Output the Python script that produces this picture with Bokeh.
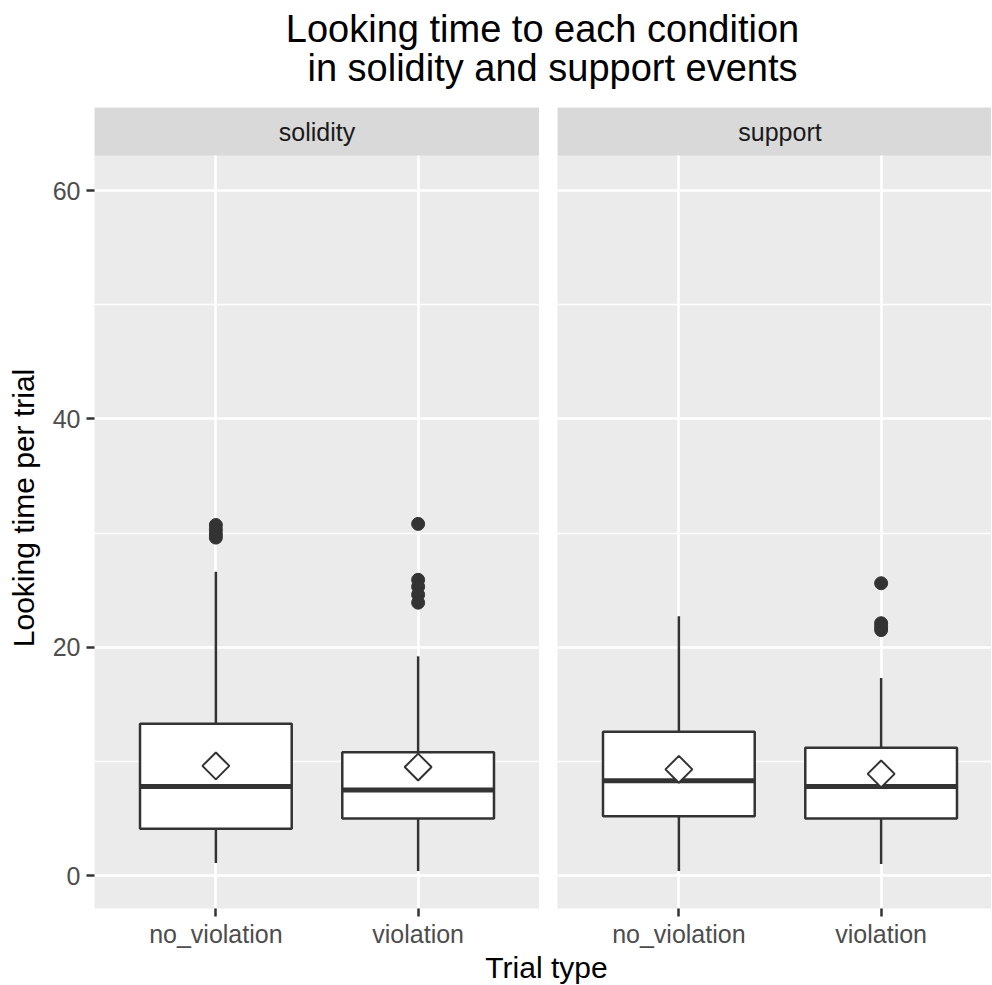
import numpy as np
from bokeh.plotting import figure
from bokeh.layouts import column, row
from bokeh.models import Range1d, FixedTicker, ColumnDataSource
from bokeh.core.properties import value
from bokeh.embed import file_html
from bokeh.resources import INLINE

# ---------------- data ----------------
title_lines = ["Looking time to each condition", "in solidity and support events"]
facets = ["solidity", "support"]
trial_types = ["no_violation", "violation"]

# per facet: [no_violation, violation]
solidity_lower = [1.1, 0.4]
solidity_q1 = [4.1, 5.0]
solidity_median = [7.8, 7.5]
solidity_q3 = [13.3, 10.8]
solidity_upper = [26.6, 19.2]
solidity_mean = [9.6, 9.5]
solidity_out_no_violation = [30.7, 30.3, 29.9, 29.6]
solidity_out_violation = [30.8, 25.9, 25.3, 24.6, 23.9]

support_lower = [0.4, 1.0]
support_q1 = [5.2, 5.0]
support_median = [8.3, 7.8]
support_q3 = [12.6, 11.2]
support_upper = [22.7, 17.3]
support_mean = [9.3, 8.9]
support_out_no_violation = []
support_out_violation = [25.6, 22.1, 21.8, 21.5]

y_ticks = [0, 20, 40, 60]
y_minor = [10, 30, 50]
x_label = "Trial type"
y_label = "Looking time per trial"

# ---------------- styling / layout ----------------
FONT = value("Liberation Sans")
PANEL_BG = "#EBEBEB"
STRIP_BG = "#D9D9D9"
DARK = "#333333"
TICK_TXT = "#4D4D4D"

Y_LO, Y_HI = -2.89, 63.07
PANEL_PX = 753
STRIP_PX = 48
Y_TOP = Y_HI + STRIP_PX * (Y_HI - Y_LO) / PANEL_PX
PX_PER_X = 445 / 2.2
BOX_W = 0.75
TOTAL_W = 991


def make_panel(facet, lower, q1, med, q3, upper, mean, outs, frame_w, left_border, show_y):
    x_end = 0.4 + frame_w / PX_PER_X
    p = figure(width=left_border + frame_w, height=STRIP_PX + PANEL_PX + 44,
               x_range=Range1d(0.4, x_end), y_range=Range1d(Y_LO, Y_TOP),
               output_backend="svg", toolbar_location=None,
               min_border_left=left_border, min_border_right=0,
               min_border_top=0, min_border_bottom=44,
               background_fill_color=PANEL_BG, border_fill_color="white",
               outline_line_color=None)
    xs = [i + 1 for i in range(len(trial_types))]

    # grid
    p.xgrid.ticker = FixedTicker(ticks=xs)
    p.ygrid.ticker = FixedTicker(ticks=y_ticks, minor_ticks=y_minor)
    p.grid.grid_line_color = "white"
    p.grid.grid_line_width = 2.6
    p.ygrid.minor_grid_line_color = "white"
    p.ygrid.minor_grid_line_width = 1.3

    # x axis
    p.xaxis.ticker = FixedTicker(ticks=xs)
    p.xaxis.major_label_overrides = {x: t for x, t in zip(xs, trial_types)}
    p.xaxis.major_label_text_font = "Liberation Sans"
    p.xaxis.major_label_text_font_size = "25px"
    p.xaxis.major_label_text_color = TICK_TXT
    p.xaxis.major_label_standoff = 3
    p.xaxis.axis_line_color = None
    p.xaxis.major_tick_in = 0
    p.xaxis.major_tick_out = 8
    p.xaxis.major_tick_line_color = DARK
    p.xaxis.major_tick_line_width = 2.5
    p.xaxis.minor_tick_line_color = None

    # y axis
    if show_y:
        p.yaxis.ticker = FixedTicker(ticks=y_ticks)
        p.yaxis.major_label_text_font = "Liberation Sans"
        p.yaxis.major_label_text_font_size = "25px"
        p.yaxis.major_label_text_color = TICK_TXT
        p.yaxis.major_label_standoff = 6
        p.yaxis.axis_line_color = None
        p.yaxis.major_tick_in = 0
        p.yaxis.major_tick_out = 8
        p.yaxis.major_tick_line_color = DARK
        p.yaxis.major_tick_line_width = 2.5
        p.yaxis.minor_tick_line_color = None
        p.yaxis.axis_label = y_label
        p.yaxis.axis_label_text_font = "Liberation Sans"
        p.yaxis.axis_label_text_font_size = "30px"
        p.yaxis.axis_label_text_font_style = "normal"
        p.yaxis.axis_label_text_color = "black"
        p.yaxis.axis_label_standoff = 10
    else:
        p.yaxis.visible = False

    # strip
    p.quad(left=[0.4], right=[x_end], bottom=[Y_HI], top=[Y_TOP],
           fill_color=STRIP_BG, line_color=None)
    p.text(x=[1.5], y=[(Y_HI + Y_TOP) / 2], text=[facet], text_font=FONT,
           text_font_size="25px", text_color="#1A1A1A",
           text_align="center", text_baseline="middle")

    src = ColumnDataSource(dict(x=xs, lower=lower, q1=q1, med=med, q3=q3, upper=upper,
                                mean=mean,
                                xl=[x - BOX_W / 2 for x in xs],
                                xr=[x + BOX_W / 2 for x in xs]))
    # whiskers
    p.segment(x0="x", x1="x", y0="q3", y1="upper", source=src, line_color=DARK, line_width=2.5)
    p.segment(x0="x", x1="x", y0="lower", y1="q1", source=src, line_color=DARK, line_width=2.5)
    # boxes
    p.vbar(x="x", width=BOX_W, bottom="q1", top="q3", source=src,
           fill_color="white", line_color=DARK, line_width=2.5)
    # median
    p.segment(x0="xl", x1="xr", y0="med", y1="med", source=src, line_color=DARK, line_width=5)
    # outliers
    ox, oy = [], []
    for x, vals in zip(xs, outs):
        ox += [x] * len(vals)
        oy += vals
    p.scatter(x=ox, y=oy, size=13, marker="circle", fill_color=DARK, line_color=DARK)
    # mean diamonds
    p.scatter(x="x", y="mean", source=src, marker="square", angle=np.pi / 4, size=19,
              fill_color="white", line_color=DARK, line_width=2)
    return p


LEFT_BORDER = 94
left_frame = 445
right_frame = TOTAL_W - (LEFT_BORDER + left_frame) - 18

left = make_panel(facets[0], solidity_lower, solidity_q1, solidity_median, solidity_q3,
                  solidity_upper, solidity_mean,
                  [solidity_out_no_violation, solidity_out_violation],
                  frame_w=left_frame, left_border=LEFT_BORDER, show_y=True)
right = make_panel(facets[1], support_lower, support_q1, support_median, support_q3,
                   support_upper, support_mean,
                   [support_out_no_violation, support_out_violation],
                   frame_w=right_frame, left_border=18, show_y=False)


def text_fig(height, items, size):
    f = figure(width=TOTAL_W, height=height, x_range=Range1d(0, TOTAL_W),
               y_range=Range1d(height, 0),
               output_backend="svg", toolbar_location=None,
               min_border=0, outline_line_color=None,
               background_fill_color="white", border_fill_color="white")
    f.axis.visible = False
    f.grid.visible = False
    f.text(x=[it[0] for it in items], y=[it[1] for it in items], text=[it[2] for it in items],
           text_font=FONT, text_font_size=size, text_color="black",
           text_align="center", text_baseline="middle")
    return f


title_fig = text_fig(107, [(542, 28, title_lines[0]), (552, 67, title_lines[1])], "38px")
xlab_fig = text_fig(32, [(546, 15, x_label)], "30px")

layout = column(title_fig, row(left, right), xlab_fig)
open("out.html", "w").write(file_html(layout, INLINE))
